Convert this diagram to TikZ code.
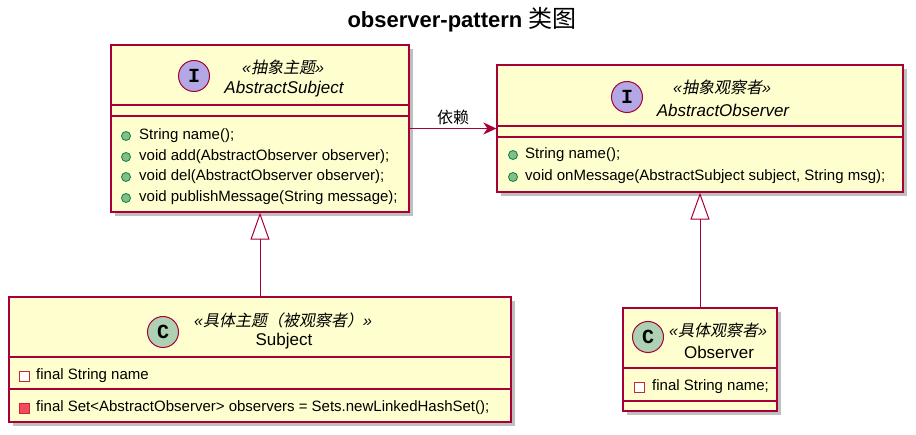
\documentclass[tikz,border=0pt]{standalone}
\usepackage{fontspec}
\setmainfont{Liberation Sans}
\newfontfamily\cjk{Noto Sans CJK SC}
\newfontfamily\cjkit{Noto Sans CJK SC}[FakeSlant=0.2]
\newfontfamily\spotfont{Liberation Mono}
\usetikzlibrary{arrows.meta,shadows}
\definecolor{umlred}{HTML}{A80036}
\definecolor{umlfill}{HTML}{FEFECE}
\definecolor{spotI}{HTML}{B4A7E5}
\definecolor{spotC}{HTML}{ADD1B2}
\definecolor{pubfill}{HTML}{84BE84}
\definecolor{pubdraw}{HTML}{038048}
\definecolor{privfill}{HTML}{F24D5C}
\definecolor{privdraw}{HTML}{C82930}
\newcommand\stereo[1]{{\itshape «}{\cjkit #1}{\itshape »}}
\begin{document}
\begin{tikzpicture}[x=1pt,y=-1pt,
  umlbox/.style={draw=umlred,fill=umlfill,line width=1.3pt,inner sep=0pt,
    drop shadow={shadow xshift=4pt,shadow yshift=-4pt,fill=black,opacity=.25}},
  umlsep/.style={draw=umlred,line width=1.3pt},
  spot/.style={circle,draw=umlred,line width=1pt,minimum size=31pt,inner sep=0pt,
    font=\fontsize{20}{20}\spotfont\bfseries},
  stereotype/.style={inner sep=0pt,font=\fontsize{16}{18}\selectfont},
  clsname/.style={inner sep=0pt,font=\fontsize{17}{19}\selectfont},
  member/.style={inner sep=0pt,anchor=west,font=\fontsize{15}{17}\selectfont},
  pub/.style={circle,draw=pubdraw,fill=pubfill,line width=.8pt,minimum size=9pt,inner sep=0pt},
  priv/.style={rectangle,draw=privdraw,line width=.8pt,minimum size=10pt,inner sep=0pt},
  inherit/.style={draw=umlred,line width=1pt,-{Triangle[open,length=27pt,width=19pt]}},
  depend/.style={draw=umlred,line width=1pt,-{Stealth[length=13pt,width=12pt,inset=4pt]}}]
  \useasboundingbox (0,0) rectangle (916,435);
  \node[font=\fontsize{22}{24}\selectfont\bfseries] (title) at (462,20) {observer-pattern {\cjk\mdseries\fontsize{24}{26}\selectfont 类图}};
  % AbstractSubject
  \node[umlbox,minimum width=298pt,minimum height=167pt] (absubj) at (260,128.5) {};
  \draw[umlsep] (absubj.west |- 0,105) -- (absubj.east |- 0,105);
  \draw[umlsep] (absubj.west |- 0,116) -- (absubj.east |- 0,116);
  \node[spot,fill=spotI] (absubjspot) at (194,76) {I};
  \node[stereotype] (absubjst) at (283,67) {\stereo{抽象主题}};
  \node[clsname,font=\fontsize{17}{19}\selectfont\itshape] (absubjname) at (284,89) {AbstractSubject};
  \foreach \y/\txt [count=\i] in {136/{String name();},157/{void add(AbstractObserver observer);},
      177/{void del(AbstractObserver observer);},198/{void publishMessage(String message);}} {
    \node[pub] (absubjdot\i) at (126,\y) {};
    \node[member] (absubjm\i) at (139,\y) {\txt};
  }
  % AbstractObserver
  \node[umlbox,minimum width=406pt,minimum height=127pt] (absobs) at (700,128.5) {};
  \draw[umlsep] (absobs.west |- 0,126) -- (absobs.east |- 0,126);
  \draw[umlsep] (absobs.west |- 0,137) -- (absobs.east |- 0,137);
  \node[spot,fill=spotI] (absobsspot) at (627,97) {I};
  \node[stereotype] (absobsst) at (722,87) {\stereo{抽象观察者}};
  \node[clsname,font=\fontsize{17}{19}\selectfont\itshape] (absobsname) at (723,110) {AbstractObserver};
  \foreach \y/\txt [count=\i] in {155/{String name();},177/{void onMessage(AbstractSubject subject, String msg);}} {
    \node[pub] (absobsdot\i) at (513,\y) {};
    \node[member] (absobsm\i) at (525,\y) {\txt};
  }
  % Subject
  \node[umlbox,minimum width=502pt,minimum height=125pt] (subject) at (260,359.5) {};
  \draw[umlsep] (subject.west |- 0,357) -- (subject.east |- 0,357);
  \draw[umlsep] (subject.west |- 0,389) -- (subject.east |- 0,389);
  \node[spot,fill=spotC] (subjectspot) at (163,332) {C};
  \node[stereotype] (subjectst) at (283,320) {\stereo{具体主题（被观察者）}};
  \node[clsname] (subjectname) at (284,341) {Subject};
  \node[priv,fill=white] (subjectsq1) at (24,376) {};
  \node[member] (subjectf1) at (36,376) {final String name};
  \node[priv,fill=privfill] (subjectsq2) at (24,408) {};
  \node[member] (subjectm1) at (36,408) {final Set<AbstractObserver> observers = Sets.newLinkedHashSet();};
  % Observer
  \node[umlbox,minimum width=154pt,minimum height=103pt] (observer) at (700,359.5) {};
  \draw[umlsep] (observer.west |- 0,368) -- (observer.east |- 0,368);
  \draw[umlsep] (observer.west |- 0,401) -- (observer.east |- 0,401);
  \node[spot,fill=spotC] (observerspot) at (648,337) {C};
  \node[stereotype] (observerst) at (718,330) {\stereo{具体观察者}};
  \node[clsname] (observername) at (719,352) {Observer};
  \node[priv,fill=white] (observersq1) at (639,387) {};
  \node[member] (observerf1) at (652,387) {final String name;};
  % relations
  \draw[inherit] (subject.north) -- (absubj.south);
  \draw[inherit] (observer.north) -- (absobs.south);
  \draw[depend] (absubj.east) -- (absobs.west) node[midway,above=3pt,inner sep=0pt,font=\fontsize{16}{18}\cjk] (dependlabel) {依赖};
\end{tikzpicture}
\end{document}
